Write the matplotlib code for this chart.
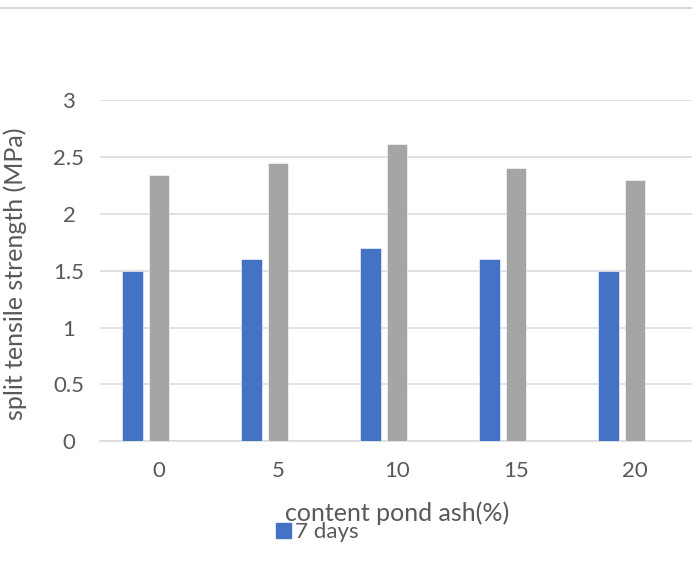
import matplotlib
matplotlib.use('Agg')
import matplotlib.pyplot as plt
from matplotlib.lines import Line2D
import numpy as np

# pond ash content (%) and split tensile strength (MPa)
categories = ['0', '5', '10', '15', '20']
days7 = [1.5, 1.6, 1.7, 1.6, 1.5]
days28 = [2.34, 2.45, 2.61, 2.40, 2.30]

blue = '#4472C4'
grey = '#A5A5A5'
txt = '#595959'
grid = '#D9D9D9'

plt.rcParams['font.family'] = ['Lato', 'DejaVu Sans']

fig = plt.figure(figsize=(6.92, 5.65), dpi=100)
ax = fig.add_axes([99.5 / 692, 123.7 / 565, 595 / 692, 341.3 / 565])

x = np.arange(len(categories))
step = 0.223
w = 0.175
ax.bar(x - step, days7, w, color=blue, edgecolor='white', linewidth=0.4, label='7 days', zorder=3)
ax.bar(x, days28, w, color=grey, edgecolor='white', linewidth=0.4, label='28 days', zorder=3)

ax.set_xlim(-0.5, 4.5)
ax.set_ylim(0, 3)
ax.set_yticks(np.arange(0, 3.01, 0.5))
ax.set_yticklabels(['0', '0.5', '1', '1.5', '2', '2.5', '3'])
ax.set_xticks(x)
ax.set_xticklabels(categories)
ax.grid(axis='y', color=grid, linewidth=1.1, zorder=0)
for s in ['top', 'right', 'left']:
    ax.spines[s].set_visible(False)
ax.spines['bottom'].set_color(grid)
ax.spines['bottom'].set_linewidth(1.1)

ax.tick_params(axis='both', length=0, labelsize=16, colors=txt)
ax.tick_params(axis='x', pad=14)
ax.tick_params(axis='y', pad=22)
for lab in ax.get_yticklabels():
    lab.set_horizontalalignment('center')

ax.set_xlabel('content pond ash(%)', fontsize=18, color=txt)
ax.xaxis.set_label_coords(0.5, -0.175)
ax.set_ylabel('split tensile strength (MPa)', fontsize=18, color=txt)
ax.yaxis.set_label_coords(-0.122, 0.49)

# only the 7 days entry is visible in the legend
h = [plt.Rectangle((0, 0), 1, 1, color=blue)]
fig.legend(h, ['7 days'], loc='center left', bbox_to_anchor=(265 / 692, 1 - 532 / 565),
           frameon=False, fontsize=16, labelcolor=txt, handlelength=0.65, handleheight=0.65,
           handletextpad=0.2, borderpad=0)

fig.add_artist(Line2D([0, 1], [1 - 7.5 / 565, 1 - 7.5 / 565], color=grid, linewidth=1.5,
                      transform=fig.transFigure))

fig.savefig('out.png', dpi=100, facecolor='white')
